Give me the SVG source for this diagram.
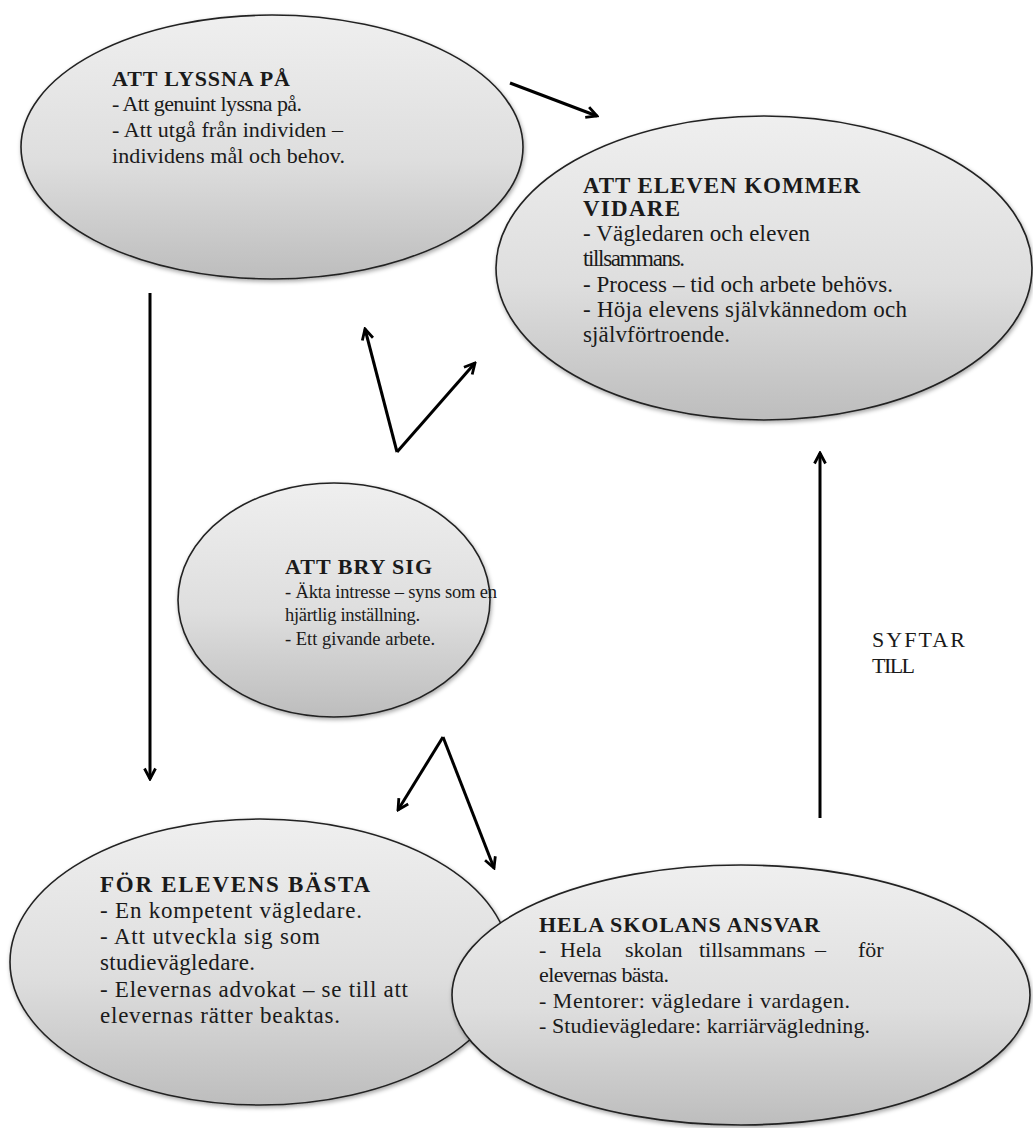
<svg xmlns="http://www.w3.org/2000/svg" width="1033" height="1128" viewBox="0 0 1033 1128">
  <style>
    .bubble { fill: url(#shade); stroke: #222; stroke-width: 1.6; filter: url(#soft); }
    .t { font-family: "Liberation Serif", "Times New Roman", serif; font-size: 22px; fill: #1a1a1a; }
    .h { font-weight: bold; }
    .s23 { font-size: 23px; }
    .s19 { font-size: 18.5px; }
    .link { stroke: #000; stroke-width: 3; fill: none; marker-end: url(#head); }
  </style>
  <defs>
    <linearGradient id="shade" x1="0" y1="0" x2="0" y2="1">
      <stop offset="0" stop-color="#efefef"/>
      <stop offset="0.55" stop-color="#dedede"/>
      <stop offset="1" stop-color="#bdbdbd"/>
    </linearGradient>
    <filter id="soft" x="-10%" y="-10%" width="120%" height="125%">
      <feDropShadow dx="1" dy="2" stdDeviation="2" flood-color="#000" flood-opacity="0.35"/>
    </filter>
    <marker id="head" viewBox="0 0 14 14" refX="12" refY="7" markerWidth="14" markerHeight="14" markerUnits="userSpaceOnUse" orient="auto">
      <path d="M1.5,1.5 L12,7 L1.5,12.5" fill="none" stroke="#000" stroke-width="2.8" stroke-linejoin="miter"/>
    </marker>
  </defs>

  <rect width="1033" height="1128" fill="#fff"/>

  <!-- connectors -->
  <g id="connectors">
    <line class="link" x1="510" y1="83" x2="597" y2="116"/>
    <line class="link" x1="150" y1="293" x2="150" y2="779"/>
    <line class="link" x1="397" y1="452" x2="365" y2="329"/>
    <line class="link" x1="397" y1="452" x2="475" y2="363"/>
    <line class="link" x1="443" y1="737" x2="398" y2="810"/>
    <line class="link" x1="443" y1="737" x2="494" y2="868"/>
    <line class="link" x1="820" y1="818" x2="820" y2="453"/>
    <text class="t" x="872" y="647" textLength="93">SYFTAR</text>
    <text class="t" x="872" y="673" textLength="43">TILL</text>
  </g>

  <g id="lyssna">
    <ellipse class="bubble" cx="272" cy="147" rx="251" ry="132"/>
    <text class="t h" x="112" y="86" textLength="178">ATT LYSSNA PÅ</text>
    <text class="t" x="112" y="111" textLength="190">- Att genuint lyssna på.</text>
    <text class="t" x="112" y="137" textLength="231">- Att utgå från individen –</text>
    <text class="t" x="112" y="163" textLength="233">individens mål och behov.</text>
  </g>

  <g id="vidare">
    <ellipse class="bubble" cx="764" cy="268" rx="268" ry="152"/>
    <text class="t s23 h" x="583" y="193" textLength="277">ATT ELEVEN KOMMER</text>
    <text class="t s23 h" x="583" y="216" textLength="97">VIDARE</text>
    <text class="t s23" x="583" y="241" textLength="227">- Vägledaren och eleven</text>
    <text class="t s23" x="583" y="266" textLength="102">tillsammans.</text>
    <text class="t s23" x="583" y="292" textLength="310">- Process – tid och arbete behövs.</text>
    <text class="t s23" x="583" y="317" textLength="324">- Höja elevens självkännedom och</text>
    <text class="t s23" x="583" y="342" textLength="147">självförtroende.</text>
  </g>

  <g id="bry">
    <ellipse class="bubble" cx="334" cy="600" rx="156" ry="117"/>
    <text class="t h" x="285" y="574" textLength="147">ATT BRY SIG</text>
    <text class="t s19" x="285" y="598" textLength="212">- Äkta intresse – syns som en</text>
    <text class="t s19" x="285" y="621" textLength="135">hjärtlig inställning.</text>
    <text class="t s19" x="285" y="645" textLength="150">- Ett givande arbete.</text>
  </g>

  <g id="basta">
    <ellipse class="bubble" cx="260" cy="962" rx="250" ry="143"/>
    <text class="t s23 h" x="100" y="892" textLength="270">FÖR ELEVENS BÄSTA</text>
    <text class="t s23" x="100" y="918" textLength="262">- En kompetent vägledare.</text>
    <text class="t s23" x="100" y="944" textLength="220">- Att utveckla sig som</text>
    <text class="t s23" x="100" y="970" textLength="155">studievägledare.</text>
    <text class="t s23" x="100" y="997" textLength="308">- Elevernas advokat – se till att</text>
    <text class="t s23" x="100" y="1023" textLength="240">elevernas rätter beaktas.</text>
  </g>

  <g id="ansvar">
    <ellipse class="bubble" cx="741" cy="995" rx="289" ry="130"/>
    <text class="t h" x="539" y="932" textLength="281">HELA SKOLANS ANSVAR</text>
    <text class="t" y="957"><tspan x="539">-</tspan><tspan x="560">Hela</tspan><tspan x="625">skolan</tspan><tspan x="699">tillsammans</tspan><tspan x="815">–</tspan><tspan x="858">för</tspan></text>
    <text class="t" x="539" y="982" textLength="130">elevernas bästa.</text>
    <text class="t" x="539" y="1008" textLength="311">- Mentorer: vägledare i vardagen.</text>
    <text class="t" x="539" y="1033" textLength="331">- Studievägledare: karriärvägledning.</text>
  </g>
</svg>
